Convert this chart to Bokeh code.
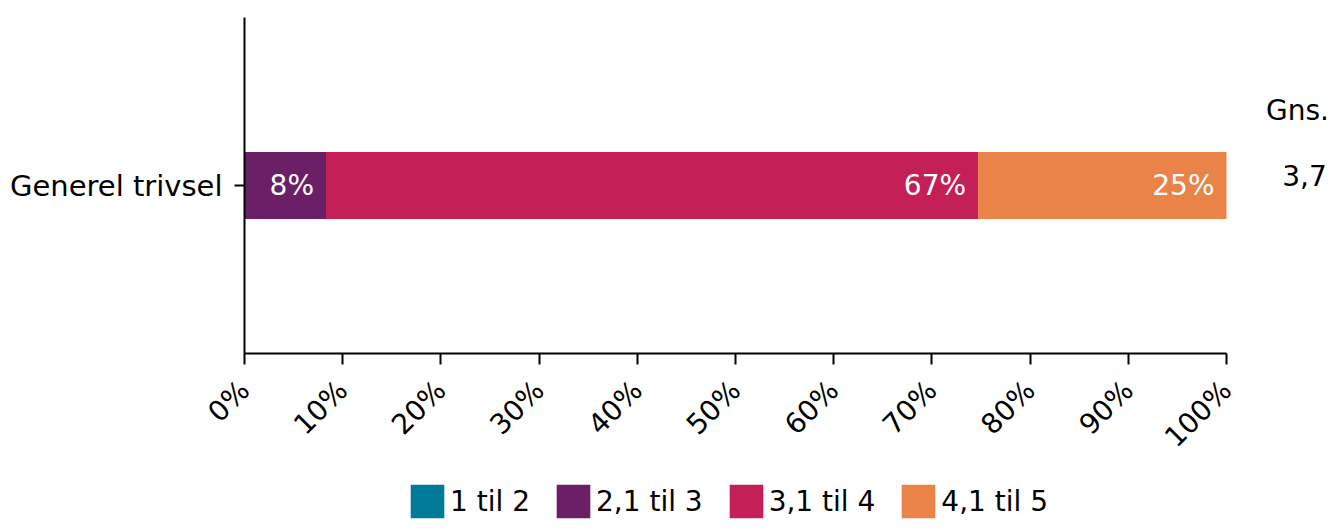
import math
from bokeh.plotting import figure
from bokeh.layouts import column
from bokeh.models import (ColumnDataSource, FactorRange, Range1d, FixedTicker,
                          NumeralTickFormatter, Legend, LegendItem)
from bokeh.embed import file_html
from bokeh.resources import INLINE
from bokeh.core.properties import value

# ---- data ----
categories = ["Generel trivsel"]
series = ["1 til 2", "2,1 til 3", "3,1 til 4", "4,1 til 5"]
shares = [0.0, 0.083, 0.664, 0.253]
share_labels = ["", "8%", "67%", "25%"]
colors = ["#007A99", "#6A1F66", "#C42057", "#EA8348"]
avg_header = ["Gns."]
avg_values = ["3,7"]
x_ticks = [0.0, 0.1, 0.2, 0.3, 0.4, 0.5, 0.6, 0.7, 0.8, 0.9, 1.0]

FONT = "DejaVu Sans"
FS = "28px"

W = 1329
H_MAIN, H_LEG = 472, 50
LEFT, TOP, PLOT_W, AXIS_Y = 244, 17, 982, 353
x_end = (W - LEFT) / PLOT_W  # frame runs to the right edge, axis bounded to 0..1

p = figure(width=W, height=H_MAIN,
           y_range=FactorRange(factors=categories),
           x_range=Range1d(0, x_end),
           output_backend="svg", toolbar_location=None,
           min_border_left=LEFT, min_border_right=0,
           min_border_top=TOP, min_border_bottom=H_MAIN - AXIS_Y)
p.outline_line_color = None
p.xgrid.visible = False
p.ygrid.visible = False
p.background_fill_color = "white"

# stacked segments
left = 0.0
for s, v, lab, c in zip(series, shares, share_labels, colors):
    right = left + v
    src = ColumnDataSource(dict(y=categories, left=[left], right=[right], lab=[lab]))
    p.hbar(y="y", left="left", right="right", height=0.2, source=src,
           fill_color=c, line_color=None)
    if lab:
        p.text(x="right", y="y", text="lab", source=src, x_offset=-12,
               text_align="right", text_baseline="middle",
               text_color="white", text_font=value(FONT), text_font_size=FS)
    left = right

# average column (to the right of 100%)
p.text(x=[1.0], y=[0.723], text=avg_header, x_offset=71,
       text_align="center", text_baseline="middle",
       text_color="black", text_font=value(FONT), text_font_size=FS)
p.text(x=[1.0], y=[0.53], text=avg_values, x_offset=78,
       text_align="center", text_baseline="middle",
       text_color="black", text_font=value(FONT), text_font_size=FS)

# axes
xa = p.xaxis[0]
xa.bounds = (0, 1)
xa.ticker = FixedTicker(ticks=x_ticks)
xa.formatter = NumeralTickFormatter(format="0%")
xa.major_label_orientation = math.pi / 4
xa.major_label_text_font = FONT
xa.major_label_text_font_size = FS
xa.major_label_text_color = "black"
xa.major_label_standoff = 21
xa.axis_line_width = 2
xa.axis_line_color = "black"
xa.major_tick_line_width = 2
xa.major_tick_line_color = "black"
xa.major_tick_out = 11
xa.major_tick_in = 0
xa.minor_tick_line_color = None

ya = p.yaxis[0]
ya.major_label_text_font = FONT
ya.major_label_text_font_size = "29px"
ya.major_label_text_color = "black"
ya.major_label_standoff = 12
ya.axis_line_width = 2
ya.axis_line_color = "black"
ya.major_tick_line_width = 2
ya.major_tick_line_color = "black"
ya.major_tick_out = 10
ya.major_tick_in = 0
ya.minor_tick_line_color = None

# ---- legend strip (frame aligned with the main plot's frame) ----
pl = figure(width=W, height=H_LEG, x_range=Range1d(0, 1), y_range=Range1d(0, 1),
            output_backend="svg", toolbar_location=None,
            x_axis_location=None, y_axis_location=None, min_border=0)
pl.outline_line_color = None
pl.xgrid.visible = False
pl.ygrid.visible = False
leg_renderers = [pl.hbar(y=[-5], left=[0], right=[0], height=1, fill_color=c, line_color=None)
                 for c in colors]
legend = Legend(items=[LegendItem(label=s, renderers=[r]) for s, r in zip(series, leg_renderers)],
                orientation="horizontal", location=(162, 0),
                glyph_width=42, glyph_height=42, label_standoff=2, spacing=22,
                label_text_font=FONT, label_text_font_size=FS,
                label_text_color="black", label_height=34,
                padding=0, margin=0, border_line_color=None,
                background_fill_alpha=0)
pl.add_layout(legend, "center")

layout = column(p, pl, spacing=0)
open("out.html", "w").write(file_html(layout, INLINE))
